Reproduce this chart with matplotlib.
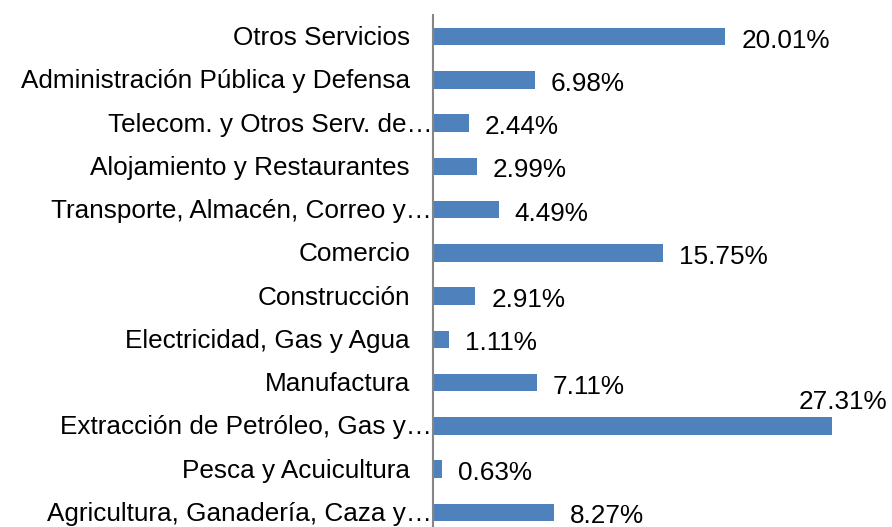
import matplotlib
matplotlib.use("Agg")
import matplotlib.pyplot as plt
import matplotlib.transforms as mtransforms

categories = [
    "Agricultura, Ganadería, Caza y…",
    "Pesca y Acuicultura",
    "Extracción de Petróleo, Gas y…",
    "Manufactura",
    "Electricidad, Gas y Agua",
    "Construcción",
    "Comercio",
    "Transporte, Almacén, Correo y…",
    "Alojamiento y Restaurantes",
    "Telecom. y Otros Serv. de…",
    "Administración Pública y Defensa",
    "Otros Servicios",
]
values = [8.27, 0.63, 27.31, 7.11, 1.11, 2.91, 15.75, 4.49, 2.99, 2.44, 6.98, 20.01]
value_labels = ["8.27%", "0.63%", "27.31%", "7.11%", "1.11%", "2.91%", "15.75%",
                "4.49%", "2.99%", "2.44%", "6.98%", "20.01%"]

plt.rcParams['font.family'] = ['Liberation Sans', 'DejaVu Sans']

W, H = 892, 527
fig = plt.figure(figsize=(W / 100, H / 100), dpi=100)
ax = fig.add_axes([433 / W, -7 / H, 438 / W, 519 / H])

n = len(categories)
ypos = list(range(n))
ax.barh(ypos, values, height=0.4, color="#4F81BD", zorder=2)
ax.set_xlim(0, 30)
ax.set_ylim(-0.5, n - 0.5)

for s in ["top", "right", "bottom"]:
    ax.spines[s].set_visible(False)
ax.spines["left"].set_color("#868686")
ax.spines["left"].set_linewidth(1.5)
ax.set_xticks([])
ax.set_yticks([])

fs = 18.8
for i, (cat, v, lab) in enumerate(zip(categories, values, value_labels)):
    # category label
    dx = -1 if cat.endswith("…") else -23
    tr = mtransforms.offset_copy(ax.get_yaxis_transform(), fig=fig, x=dx, y=-1.5, units="dots")
    ax.text(0, i, cat, transform=tr, ha="right", va="center", fontsize=fs, color="#000000")
    # value label
    if v > 25:
        tr2 = mtransforms.offset_copy(ax.transData, fig=fig, x=56, y=24, units="dots")
        ax.text(v, i, lab, transform=tr2, ha="right", va="center", fontsize=fs, color="#000000")
    else:
        tr2 = mtransforms.offset_copy(ax.transData, fig=fig, x=16, y=-4, units="dots")
        ax.text(v, i, lab, transform=tr2, ha="left", va="center", fontsize=fs, color="#000000")

fig.savefig("out.png", dpi=100)
